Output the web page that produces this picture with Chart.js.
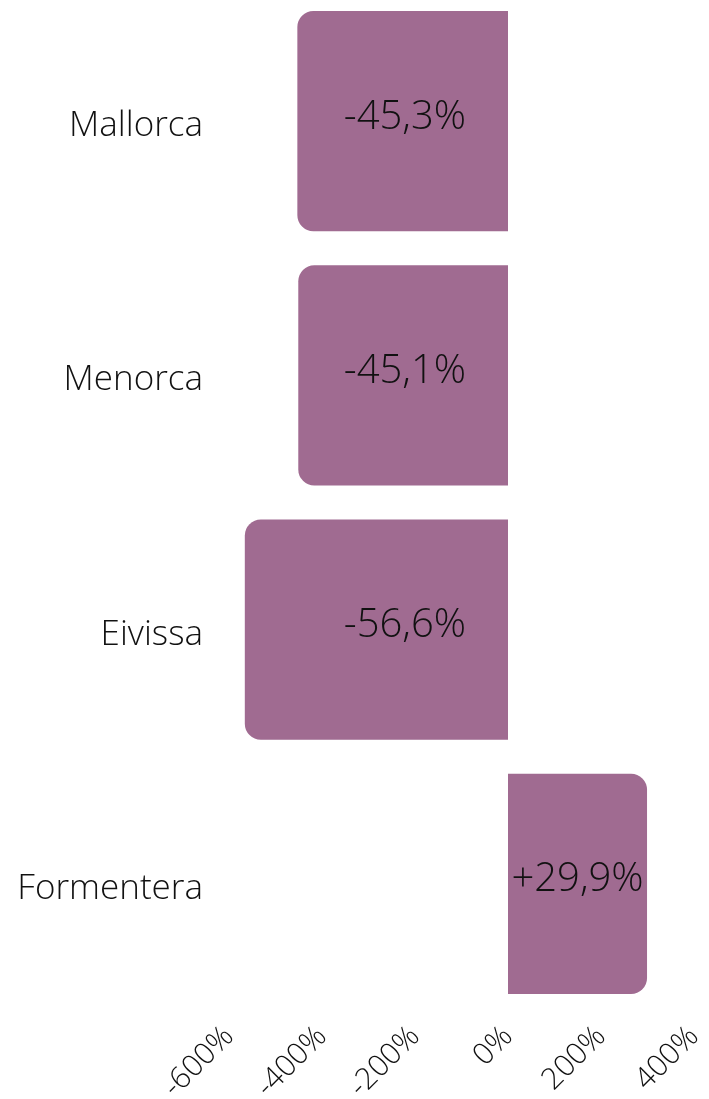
<!DOCTYPE html>
<html lang="ca">
<head>
  <meta charset="UTF-8">
  <title>Variació per illa</title>
  <script src="https://cdn.jsdelivr.net/npm/chart.js"></script>
  <style>
    html, body { margin: 0; padding: 0; background: #fff; overflow: hidden; }
    .wrap { position: absolute; left: 0; top: -6px; width: 709px; height: 1105px; }
  </style>
</head>
<body>
<div class="wrap">
  <canvas id="chart"></canvas>
</div>
<script>
  const islands = ['Mallorca', 'Menorca', 'Eivissa', 'Formentera'];
  const changes = [-45.3, -45.1, -56.6, 29.9];
  const barLabels = ['-45,3%', '-45,1%', '-56,6%', '+29,9%'];
  const tickLabels = ['-600%', '-400%', '-200%', '0%', '200%', '400%'];

  const FONT = "'Open Sans', 'Noto Sans', sans-serif";
  const barColor = '#a06b91';

  // value labels drawn inside the bars
  const barText = {
    id: 'barText',
    afterDatasetsDraw(chart) {
      const ctx = chart.ctx;
      const meta = chart.getDatasetMeta(0);
      ctx.save();
      ctx.font = `300 40px ${FONT}`;
      ctx.fillStyle = '#111';
      ctx.textBaseline = 'middle';
      meta.data.forEach((bar, i) => {
        if (changes[i] < 0) {
          ctx.textAlign = 'right';
          ctx.fillText(barLabels[i], bar.base - 42, bar.y - 4);
        } else {
          ctx.textAlign = 'center';
          ctx.fillText(barLabels[i], (bar.base + bar.x) / 2, bar.y - 4);
        }
      });
      ctx.restore();
    }
  };

  // no extra edge padding from the axes, the layout is fixed by hand
  const noPad = s => {
    s.paddingTop = 0; s.paddingBottom = 0;
    s.paddingLeft = 0; s.paddingRight = 0;
  };

  new Chart(document.getElementById('chart'), {
    type: 'bar',
    data: {
      labels: islands,
      datasets: [{
        data: changes,
        backgroundColor: barColor,
        borderRadius: 16,
        barPercentage: 0.866,
        categoryPercentage: 1
      }]
    },
    options: {
      indexAxis: 'y',
      responsive: true,
      maintainAspectRatio: false,
      animation: false,
      layout: { padding: { top: 0, right: 15, bottom: 0, left: 0 } },
      plugins: { legend: { display: false }, tooltip: { enabled: false } },
      scales: {
        x: {
          min: -60, max: 40,
          grid: { display: false },
          border: { display: false },
          ticks: {
            stepSize: 20,
            autoSkip: false,
            minRotation: 45, maxRotation: 45,
            padding: 0,
            color: '#111',
            font: { family: FONT, size: 30, weight: 300 },
            callback: (v, i) => tickLabels[i]
          },
          afterFit: s => { s.height = 88; noPad(s); }
        },
        y: {
          grid: { display: false, drawTicks: false },
          border: { display: false },
          ticks: {
            padding: 26,
            labelOffset: 5,
            color: '#111',
            font: { family: FONT, size: 35, weight: 300 }
          },
          afterFit: s => { s.width = 229; noPad(s); }
        }
      }
    },
    plugins: [barText]
  });
</script>
</body>
</html>
